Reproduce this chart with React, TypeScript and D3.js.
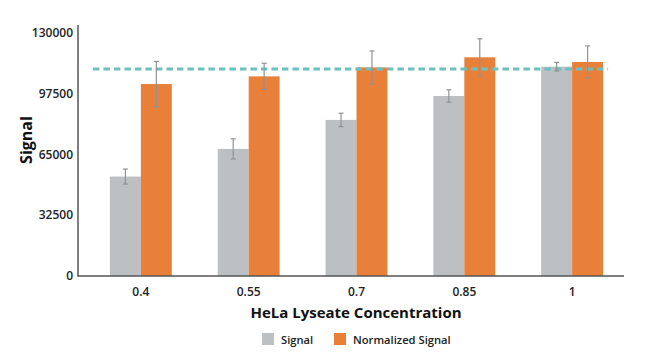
import React from "react";
import * as d3 from "d3";

const categories = ["0.4", "0.55", "0.7", "0.85", "1"];
const signalValues = [53200, 68000, 83500, 96300, 112000];
const signalErrors = [4000, 5400, 3600, 3300, 2300];
const normalizedValues = [102700, 106800, 111600, 117000, 114500];
const normalizedErrors = [12100, 7000, 8800, 9900, 8600];
const referenceLine = [110700];
const yTicks = [0, 32500, 65000, 97500, 130000];
const seriesNames = ["Signal", "Normalized Signal"];
const seriesColors = ["#bcc0c3", "#e8803a"];

const W = 661;
const H = 360;

export default function App() {
  const y = d3.scaleLinear().domain([0, 130000]).range([276, 33]);
  const x = d3
    .scaleBand<string>()
    .domain(categories)
    .range([78, 635])
    .paddingInner(0.426)
    .paddingOuter(0.296);
  const bw = x.bandwidth() / 2;
  const font = "'Open Sans', 'Noto Sans', sans-serif";
  const series = [
    { vals: signalValues, errs: signalErrors },
    { vals: normalizedValues, errs: normalizedErrors },
  ];
  const refY = y(referenceLine[0]);
  const refX1 = (x(categories[0]) as number) - 17;
  const refX2 = (x(categories[categories.length - 1]) as number) + x.bandwidth() + 5;

  return (
    <svg
      width={W}
      height={H}
      style={{ position: "absolute", left: 0, top: 0, background: "#fff" }}
      fontFamily={font}
    >
      {series.map((s, si) =>
        categories.map((c, i) => {
          const bx = (x(c) as number) + si * bw;
          return (
            <rect
              key={`b-${si}-${i}`}
              x={bx}
              y={y(s.vals[i])}
              width={bw}
              height={y(0) - y(s.vals[i])}
              fill={seriesColors[si]}
            />
          );
        })
      )}
      <line
        x1={refX1}
        x2={refX2}
        y1={refY}
        y2={refY}
        stroke="#6cc0bf"
        strokeWidth={3}
        strokeDasharray="6.5 4"
      />
      {series.map((s, si) =>
        categories.map((c, i) => {
          const cx = (x(c) as number) + si * bw + bw / 2;
          const top = y(s.vals[i] + s.errs[i]);
          const bot = y(s.vals[i] - s.errs[i]);
          return (
            <g key={`e-${si}-${i}`} stroke="#8f9396" strokeWidth={1.2}>
              <line x1={cx} x2={cx} y1={top} y2={bot} />
              <line x1={cx - 2.5} x2={cx + 2.5} y1={top} y2={top} />
              <line x1={cx - 2.5} x2={cx + 2.5} y1={bot} y2={bot} />
            </g>
          );
        })
      )}
      <line x1={78} x2={78} y1={25} y2={276.5} stroke="#555" strokeWidth={1.5} />
      <line x1={77.5} x2={624} y1={276} y2={276} stroke="#555" strokeWidth={1.5} />
      {yTicks.map((t) => (
        <text
          key={`yt-${t}`}
          x={73}
          y={y(t)}
          dy="0.35em"
          textAnchor="end"
          fontSize={12}
          fontWeight={600}
          fill="#222"
        >
          {t}
        </text>
      ))}
      {categories.map((c) => (
        <text
          key={`xt-${c}`}
          x={(x(c) as number) + x.bandwidth() / 2}
          y={296}
          textAnchor="middle"
          fontSize={12}
          fontWeight={600}
          fill="#222"
        >
          {c}
        </text>
      ))}
      <text
        x={356}
        y={318}
        textAnchor="middle"
        fontSize={15}
        fontWeight={700}
        fill="#111"
      >
        HeLa Lyseate Concentration
      </text>
      <text
        transform="translate(32,140) rotate(-90)"
        textAnchor="middle"
        fontSize={16}
        fontWeight={700}
        fill="#111"
      >
        Signal
      </text>
      <rect x={262} y={333} width={12} height={12} fill={seriesColors[0]} />
      <text x={281} y={343.5} fontSize={11.2} fontWeight={600} fill="#222">
        {seriesNames[0]}
      </text>
      <rect x={334} y={333} width={12} height={12} fill={seriesColors[1]} />
      <text x={353} y={343.5} fontSize={11.2} fontWeight={600} fill="#222">
        {seriesNames[1]}
      </text>
    </svg>
  );
}
